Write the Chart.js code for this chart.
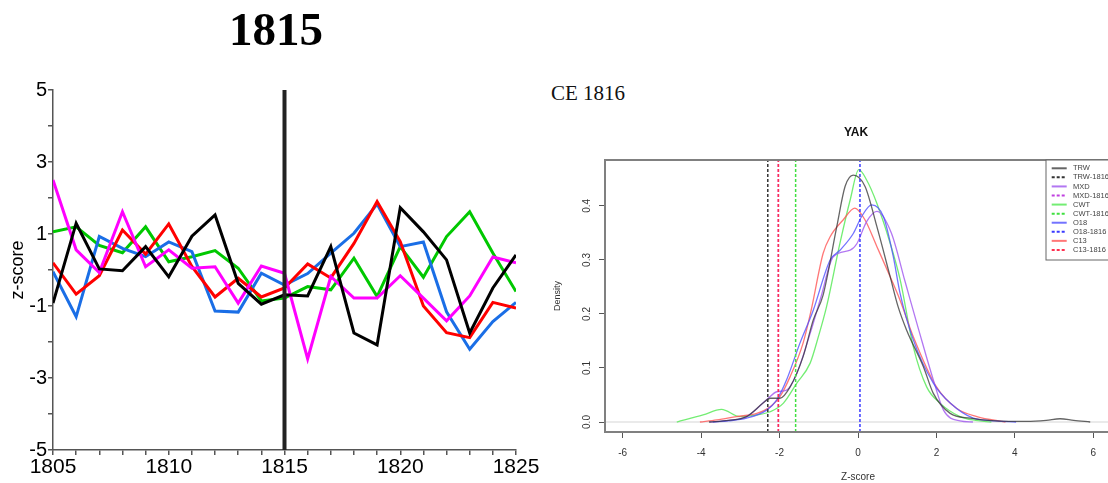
<!DOCTYPE html>
<html>
<head>
<meta charset="utf-8">
<script src="https://cdn.jsdelivr.net/npm/chart.js@4.4.1/dist/chart.umd.min.js"></script>
<style>
  html, body { margin: 0; padding: 0; background: #fff; }
  body { width: 1108px; height: 483px; overflow: hidden; position: relative; }
  #left { position: absolute; left: 0; top: 0; }
  #right { position: absolute; left: 540px; top: 0; }
  #ce { position: absolute; left: 551px; top: 81px; font: 21px "Liberation Serif", serif; color: #111; }
</style>
</head>
<body>
<canvas id="left" width="540" height="483" style="width:540px;height:483px"></canvas>
<div id="ce">CE 1816</div>
<canvas id="right" width="620" height="483" style="width:620px;height:483px"></canvas>
<script>
// ---- left panel: z-scores around the 1815 event ----
const years = [1805, 1806, 1807, 1808, 1809, 1810, 1811, 1812, 1813, 1814, 1815,
               1816, 1817, 1818, 1819, 1820, 1821, 1822, 1823, 1824, 1825];
const blackZ   = [-0.92, 1.3, 0.03, -0.02, 0.65, -0.19, 0.94, 1.53, -0.37, -0.95, -0.69,
                  -0.72, 0.65, -1.75, -2.08, 1.73, 1.06, 0.28, -1.75, -0.5, 0.42];
const redZ     = [0.2, -0.67, -0.16, 1.11, 0.44, 1.28, 0.1, -0.75, -0.23, -0.75, -0.5,
                  0.17, -0.22, 0.74, 1.9, 0.79, -1.0, -1.74, -1.88, -0.9, -1.06];
const blueZ    = [-0.05, -1.3, 0.93, 0.6, 0.37, 0.78, 0.51, -1.14, -1.17, -0.09, -0.42,
                  -0.1, 0.47, 1.02, 1.83, 0.65, 0.78, -1.16, -2.2, -1.43, -0.9];
const greenZ   = [1.06, 1.2, 0.68, 0.48, 1.2, 0.23, 0.37, 0.54, 0.05, -0.86, -0.78,
                  -0.46, -0.55, 0.33, -0.74, 0.65, -0.2, 0.93, 1.62, 0.47, -0.6];
const magentaZ = [2.5, 0.56, -0.07, 1.62, 0.09, 0.56, 0.05, 0.09, -0.92, 0.11, -0.09,
                  -2.47, -0.18, -0.78, -0.78, -0.16, -0.78, -1.41, -0.72, 0.36, 0.2];
const zTickLabels = [5, 3, 1, -1, -3, -5];
const yearTickLabels = [1805, 1810, 1815, 1820, 1825];
const eventYear = 1815;

// ---- right panel: YAK density curves (z, density) ----
const trwX = [-3.8, -3.3, -2.84, -2.42, -2.24, -1.99, -1.73, -1.4, -1.14, -0.89, -0.54, -0.33, -0.12,
              0.18, 0.48, 0.82, 1.02, 1.24, 1.67, 1.92, 2.35, 2.86, 3.5, 4.3, 4.8, 5.15, 5.5, 5.92];
const trwY = [0, 0.003, 0.01, 0.035, 0.044, 0.044, 0.065, 0.121, 0.189, 0.235, 0.362, 0.436, 0.457,
              0.436, 0.362, 0.269, 0.214, 0.17, 0.102, 0.053, 0.016, 0.007, 0.002, 0.001, 0.003, 0.006, 0.003, 0];
const mxdX = [-3.78, -3.3, -2.84, -2.33, -2.07, -1.82, -1.56, -1.22, -0.95, -0.63, -0.2, -0.03,
              0.22, 0.48, 0.85, 1.2, 1.55, 1.92, 2.18, 2.6, 2.93];
const mxdY = [0, 0.003, 0.01, 0.041, 0.056, 0.059, 0.09, 0.164, 0.23, 0.306, 0.318, 0.33,
              0.371, 0.39, 0.35, 0.26, 0.17, 0.078, 0.022, 0.002, 0];
const cwtX = [-4.62, -3.95, -3.48, -3.01, -2.58, -2.24, -1.9, -1.56, -1.22, -1.01, -0.8, -0.46, -0.2,
              0.02, 0.22, 0.48, 0.82, 1.07, 1.41, 1.75, 2.09, 2.6, 3.0, 3.4];
const cwtY = [0, 0.013, 0.0235, 0.01, 0.013, 0.019, 0.035, 0.072, 0.109, 0.158, 0.214, 0.331, 0.411,
              0.467, 0.448, 0.405, 0.331, 0.265, 0.139, 0.065, 0.035, 0.01, 0.003, 0];
const o18X = [-3.7, -3.3, -2.84, -2.33, -2.07, -1.82, -1.48, -1.15, -0.71, -0.46, -0.12, 0.09,
              0.35, 0.65, 0.9, 1.07, 1.41, 1.92, 2.35, 2.94, 3.5, 4.03];
const o18Y = [0, 0.002, 0.007, 0.022, 0.041, 0.078, 0.146, 0.205, 0.3, 0.318, 0.349, 0.38,
              0.402, 0.38, 0.306, 0.239, 0.152, 0.072, 0.035, 0.007, 0.002, 0];
const c13X = [-4.03, -3.6, -3.1, -2.58, -2.24, -1.99, -1.73, -1.4, -1.2, -0.89, -0.71, -0.38, -0.08,
              0.18, 0.48, 0.82, 1.07, 1.41, 2.0, 2.52, 3.03, 3.76];
const c13Y = [0, 0.004, 0.01, 0.016, 0.028, 0.047, 0.084, 0.146, 0.205, 0.312, 0.343, 0.374, 0.396,
              0.374, 0.325, 0.269, 0.226, 0.158, 0.065, 0.025, 0.01, 0];
const event1816 = { trw: -2.30, mxd: -2.03, cwt: -1.59, o18: 0.05, c13: -2.03 };
const zTicks = [-6, -4, -2, 0, 2, 4, 6];
const densityTicks = [0, 0.1, 0.2, 0.3, 0.4];
const legendLabels = ["TRW", "TRW-1816", "MXD", "MXD-1816", "CWT", "CWT-1816",
                      "O18", "O18-1816", "C13", "C13-1816"];

const sans = "'Liberation Sans', Arial, sans-serif";

function series(vals) {
  return vals.map((v, i) => ({ x: years[i], y: v }));
}
function curve(xs, ys) {
  return xs.map((x, i) => ({ x, y: ys[i] }));
}

// big serif heading above the left panel
const heading = {
  id: "heading",
  afterDraw(chart) {
    const ctx = chart.ctx;
    ctx.save();
    ctx.fillStyle = "#000";
    ctx.font = "bold 47px 'Liberation Serif', serif";
    ctx.textAlign = "center";
    ctx.textBaseline = "middle";
    ctx.fillText("1815", 276, 33);
    ctx.restore();
  }
};

new Chart(document.getElementById("left"), {
  type: "line",
  data: {
    datasets: [
      { data: [{ x: eventYear, y: -5 }, { x: eventYear, y: 5 }], borderColor: "#222", borderWidth: 4 },
      { data: series(blackZ), borderColor: "#000" },
      { data: series(magentaZ), borderColor: "#ff00ff" },
      { data: series(redZ), borderColor: "#ff0000" },
      { data: series(blueZ), borderColor: "#1a6ee6" },
      { data: series(greenZ), borderColor: "#00c800" }
    ]
  },
  options: {
    responsive: false,
    animation: false,
    layout: { padding: { left: 0, right: 24, top: 90, bottom: 0 } },
    elements: { point: { radius: 0 }, line: { borderWidth: 3, tension: 0 } },
    plugins: {
      legend: { display: false },
      tooltip: { enabled: false },
      title: { display: false }
    },
    scales: {
      x: {
        type: "linear",
        min: 1805,
        max: 1825,
        afterFit: (s) => { s.height = 33; },
        ticks: {
          stepSize: 1,
          autoSkip: false,
          maxRotation: 0,
          padding: 0,
          color: "#000",
          font: { family: sans, size: 21 },
          callback: (v) => (yearTickLabels.includes(v) ? String(v) : "")
        },
        grid: { drawOnChartArea: false, tickLength: 5, color: "#555", lineWidth: 1.5 },
        border: { color: "#555", width: 1.5 }
      },
      y: {
        min: -5,
        max: 5,
        afterFit: (s) => { s.width = 53; },
        title: {
          display: true,
          text: "z-score",
          color: "#000",
          font: { family: sans, size: 18, lineHeight: 1.2 },
          padding: { top: 7, bottom: 0 }
        },
        ticks: {
          stepSize: 1,
          autoSkip: false,
          padding: 1,
          color: "#000",
          font: { family: sans, size: 20 },
          callback: (v) => (zTickLabels.includes(v) ? String(v) : "")
        },
        grid: { drawOnChartArea: false, tickLength: 5, color: "#555", lineWidth: 1.5 },
        border: { color: "#555", width: 1.5 }
      }
    }
  },
  plugins: [heading]
});

// R-style decorations: box, rotated y labels, title, legend
const rDecor = {
  id: "rDecor",
  afterDraw(chart) {
    const { ctx, chartArea: a, scales } = chart;
    ctx.save();
    ctx.strokeStyle = "#808080";
    ctx.lineWidth = 2;
    ctx.strokeRect(a.left, a.top, a.right - a.left, a.bottom - a.top);

    ctx.fillStyle = "#333";
    ctx.font = "10px " + sans;
    ctx.textAlign = "center";
    ctx.textBaseline = "middle";
    densityTicks.forEach((v) => {
      const y = scales.y.getPixelForValue(v);
      ctx.save();
      ctx.translate(47, y);
      ctx.rotate(-Math.PI / 2);
      ctx.fillText(v.toFixed(1), 0, 0);
      ctx.restore();
    });

    ctx.fillStyle = "#111";
    ctx.font = "bold 12px " + sans;
    ctx.fillText("YAK", 316, 133);

    // legend box
    const lx = 506, ly = 160;
    ctx.fillStyle = "#fff";
    ctx.fillRect(lx, ly, 140, 100);
    ctx.strokeStyle = "#666";
    ctx.lineWidth = 1;
    ctx.strokeRect(lx, ly, 140, 100);
    ctx.font = "7.5px " + sans;
    ctx.textAlign = "left";
    const styles = chart.data.datasets;
    legendLabels.forEach((label, i) => {
      const ds = styles.find((d) => d.label === label);
      const y = 168.3 + i * 9.07;
      ctx.strokeStyle = ds.borderColor;
      ctx.lineWidth = 2;
      ctx.setLineDash(ds.borderDash || []);
      ctx.beginPath();
      ctx.moveTo(lx + 5.7, y);
      ctx.lineTo(lx + 20.7, y);
      ctx.stroke();
      ctx.setLineDash([]);
      ctx.fillStyle = "#444";
      ctx.fillText(label, lx + 27, y);
    });
    ctx.restore();
  }
};

const vline = (z, label, color) => ({
  label,
  data: [{ x: z, y: -0.0185 }, { x: z, y: 0.485 }],
  borderColor: color,
  borderWidth: 1.5,
  borderDash: [3, 2],
  tension: 0
});
const dens = (xs, ys, label, color) => ({
  label,
  data: curve(xs, ys),
  borderColor: color,
  borderWidth: 1.3,
  cubicInterpolationMode: "monotone"
});

new Chart(document.getElementById("right"), {
  type: "line",
  data: {
    datasets: [
      vline(event1816.o18, "O18-1816", "#3a3aff"),
      vline(event1816.c13, "C13-1816", "#ff3050"),
      vline(event1816.mxd, "MXD-1816", "#c040e0"),
      vline(event1816.cwt, "CWT-1816", "#40e040"),
      vline(event1816.trw, "TRW-1816", "#333"),
      dens(trwX, trwY, "TRW", "rgba(50,50,50,0.75)"),
      dens(o18X, o18Y, "O18", "rgba(80,80,255,0.8)"),
      dens(mxdX, mxdY, "MXD", "rgba(165,95,240,0.85)"),
      dens(c13X, c13Y, "C13", "rgba(255,85,85,0.8)"),
      dens(cwtX, cwtY, "CWT", "rgba(100,235,100,0.9)"),
      { data: [{ x: -6.45, y: 0 }, { x: 6.45, y: 0 }], borderColor: "#e3e3e3", borderWidth: 1.3 }
    ]
  },
  options: {
    responsive: false,
    animation: false,
    layout: { padding: { left: 0, right: 49, top: 160, bottom: 0 } },
    elements: { point: { radius: 0 }, line: { tension: 0.4 } },
    plugins: { legend: { display: false }, tooltip: { enabled: false }, title: { display: false } },
    scales: {
      x: {
        type: "linear",
        min: -6.45,
        max: 6.45,
        afterFit: (s) => { s.height = 51; },
        afterBuildTicks: (s) => { s.ticks = zTicks.map((v) => ({ value: v })); },
        title: {
          display: true,
          text: "Z-score",
          color: "#333",
          font: { family: sans, size: 10, lineHeight: 1.2 },
          padding: { top: 0, bottom: 0 }
        },
        ticks: { autoSkip: false, maxRotation: 0, padding: 9, color: "#333", font: { family: sans, size: 10 } },
        grid: { drawOnChartArea: false, tickLength: 6, color: "#555", lineWidth: 1 },
        border: { display: false }
      },
      y: {
        min: -0.0185,
        max: 0.485,
        afterFit: (s) => { s.width = 65; },
        afterBuildTicks: (s) => { s.ticks = densityTicks.map((v) => ({ value: v })); },
        title: {
          display: true,
          text: "Density",
          color: "#333",
          font: { family: sans, size: 9, lineHeight: 1.2 },
          padding: { top: 12.6, bottom: 0 }
        },
        ticks: { display: false },
        grid: { drawOnChartArea: false, tickLength: 6, color: "#555", lineWidth: 1 },
        border: { display: false }
      }
    }
  },
  plugins: [rDecor]
});
</script>
</body>
</html>
